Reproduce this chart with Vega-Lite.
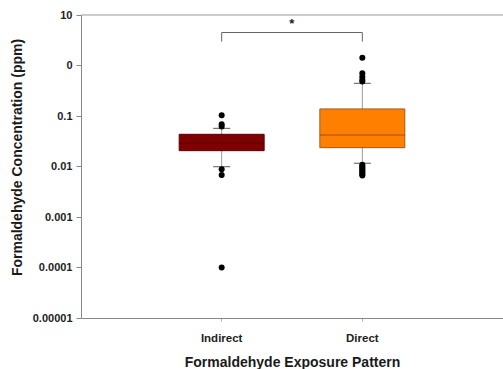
{
  "$schema": "https://vega.github.io/schema/vega-lite/v6.json",
  "width": 422,
  "height": 303,
  "autosize": {"type": "none"},
  "padding": {"left": 81, "top": 15, "right": 0, "bottom": 51},
  "background": "white",
  "config": {
    "view": {"stroke": null, "strokeWidth": 0},
    "font": "Liberation Sans",
    "axis": {"grid": false}
  },
  "datasets": {
    "boxes": [
      {"group": "Indirect", "q1": 0.0206, "median": 0.0288, "q3": 0.0434, "lo": 0.0099, "hi": 0.057},
      {"group": "Direct", "q1": 0.0236, "median": 0.042, "q3": 0.138, "lo": 0.0116, "hi": 0.444}
    ],
    "outliers": [
      {"group": "Indirect", "value": 0.103},
      {"group": "Indirect", "value": 0.0686},
      {"group": "Indirect", "value": 0.062},
      {"group": "Indirect", "value": 0.0088},
      {"group": "Indirect", "value": 0.0068},
      {"group": "Indirect", "value": 0.0001},
      {"group": "Direct", "value": 0.48},
      {"group": "Direct", "value": 0.52},
      {"group": "Direct", "value": 0.6},
      {"group": "Direct", "value": 0.7},
      {"group": "Direct", "value": 1.43},
      {"group": "Direct", "value": 0.0108},
      {"group": "Direct", "value": 0.0102},
      {"group": "Direct", "value": 0.0096},
      {"group": "Direct", "value": 0.009},
      {"group": "Direct", "value": 0.0085},
      {"group": "Direct", "value": 0.008},
      {"group": "Direct", "value": 0.0075},
      {"group": "Direct", "value": 0.007},
      {"group": "Direct", "value": 0.0066}
    ],
    "bracket": [
      {"from": "Indirect", "to": "Direct", "top": 4.5, "label": "*", "labelY": 6.6}
    ],
    "legs": [
      {"group": "Indirect", "top": 4.5, "bottom": 2.96},
      {"group": "Direct", "top": 4.5, "bottom": 2.96}
    ]
  },
  "encoding": {
    "x": {
      "field": "group",
      "type": "nominal",
      "sort": ["Indirect", "Direct"],
      "scale": {"type": "band", "domain": ["Indirect", "Direct"], "paddingInner": 0.396, "paddingOuter": 0.698},
      "axis": {
        "title": "Formaldehyde Exposure Pattern",
        "titleFontSize": 14,
        "titleFontWeight": "bold",
        "titleColor": "#1a1a1a",
        "titlePadding": 12,
        "labelAngle": 0,
        "labelFontSize": 11.5,
        "labelFontWeight": "bold",
        "labelColor": "#222",
        "labelPadding": 11,
        "domainColor": "#888",
        "tickColor": "#aaa",
        "tickSize": 3
      }
    }
  },
  "layer": [
    {
      "data": {"name": "boxes"},
      "mark": {"type": "rule", "color": "#999", "strokeWidth": 1},
      "encoding": {
        "y": {
          "field": "lo",
          "type": "quantitative",
          "scale": {"type": "log", "domain": [0.00001, 10], "nice": false},
          "axis": {
            "title": "Formaldehyde Concentration (ppm)",
            "titleFontSize": 14,
            "titleFontWeight": "bold",
            "titleColor": "#1a1a1a",
            "titlePadding": 8,
            "titleY": 142,
            "values": [10, 1, 0.1, 0.01, 0.001, 0.0001, 0.00001],
            "format": ".5~f",
            "labelExpr": "datum.value == 1 ? '0' : datum.label",
            "labelFontSize": 11,
            "labelFontWeight": "bold",
            "labelColor": "#222",
            "labelPadding": 4,
            "domainColor": "#888",
            "tickColor": "#888",
            "tickSize": 5
          }
        },
        "y2": {"field": "hi"}
      }
    },
    {
      "data": {"name": "boxes"},
      "mark": {"type": "tick", "color": "#111", "size": 17, "thickness": 1},
      "encoding": {"y": {"field": "lo", "type": "quantitative"}}
    },
    {
      "data": {"name": "boxes"},
      "mark": {"type": "tick", "color": "#111", "size": 17, "thickness": 1},
      "encoding": {"y": {"field": "hi", "type": "quantitative"}}
    },
    {
      "data": {"name": "boxes"},
      "mark": {"type": "bar", "strokeWidth": 1},
      "encoding": {
        "y": {"field": "q1", "type": "quantitative"},
        "y2": {"field": "q3"},
        "fill": {"field": "group", "type": "nominal", "scale": {"domain": ["Indirect", "Direct"], "range": ["#7f0000", "#ff8000"]}, "legend": null},
        "stroke": {"field": "group", "type": "nominal", "scale": {"domain": ["Indirect", "Direct"], "range": ["#5a0000", "#a05a20"]}, "legend": null}
      }
    },
    {
      "data": {"name": "boxes"},
      "mark": {"type": "tick", "size": 85, "thickness": 1},
      "encoding": {
        "y": {"field": "median", "type": "quantitative"},
        "color": {"field": "group", "type": "nominal", "scale": {"domain": ["Indirect", "Direct"], "range": ["#3a0000", "#7a3a10"]}, "legend": null}
      }
    },
    {
      "data": {"name": "outliers"},
      "mark": {"type": "circle", "color": "#000", "size": 36, "opacity": 1},
      "encoding": {"y": {"field": "value", "type": "quantitative"}}
    },
    {
      "data": {"name": "legs"},
      "mark": {"type": "rule", "color": "#666", "strokeWidth": 1},
      "encoding": {
        "y": {"field": "top", "type": "quantitative"},
        "y2": {"field": "bottom"}
      }
    },
    {
      "data": {"name": "bracket"},
      "mark": {"type": "rule", "color": "#666", "strokeWidth": 1},
      "encoding": {
        "x": {"field": "from", "type": "nominal"},
        "x2": {"field": "to"},
        "y": {"field": "top", "type": "quantitative"}
      }
    },
    {
      "data": {"name": "bracket"},
      "mark": {"type": "text", "fontSize": 13, "fontWeight": "bold", "color": "#222", "dx": 70, "baseline": "middle"},
      "encoding": {
        "x": {"field": "from", "type": "nominal"},
        "y": {"field": "labelY", "type": "quantitative"},
        "text": {"field": "label"}
      }
    },
    {
      "data": {"values": [{"edge": 10}]},
      "mark": {"type": "rule", "color": "#999", "strokeWidth": 1},
      "encoding": {"y": {"field": "edge", "type": "quantitative"}, "x": null}
    }
  ]
}
